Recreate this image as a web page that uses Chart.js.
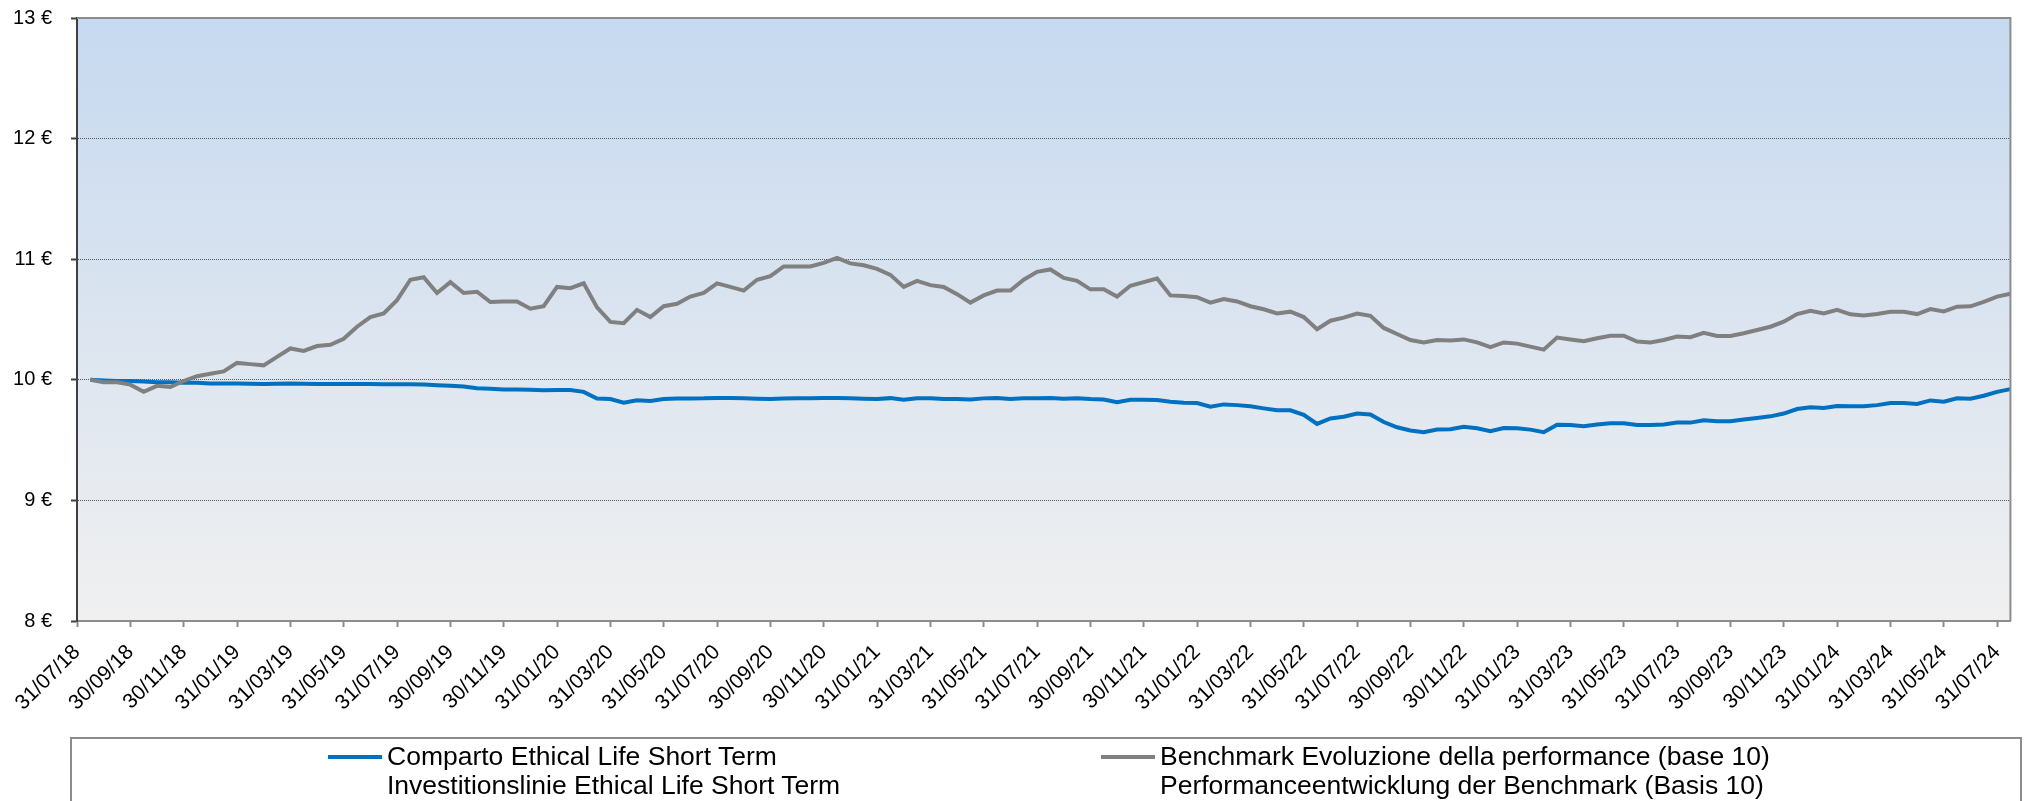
<!DOCTYPE html>
<html>
<head>
<meta charset="utf-8">
<script src="https://cdn.jsdelivr.net/npm/chart.js@4.4.1/dist/chart.umd.min.js"></script>
<style>
  html, body { margin: 0; padding: 0; background: #ffffff; overflow: hidden; }
  #wrap { position: relative; width: 2028px; height: 801px; }
  #c { position: absolute; left: 0; top: 0; }
  .lgbox { position: absolute; left: 70px; top: 737px; width: 1952px; height: 100px; border: 2px solid #8c8c8c; box-sizing: border-box; }
  .lgtext { position: absolute; font-family: "Liberation Sans", Arial, sans-serif; font-size: 26.5px; line-height: 29px; color: #000; white-space: nowrap; }
  .lgline { position: absolute; height: 4px; width: 54px; }
</style>
</head>
<body>
<div id="wrap">
  <canvas id="c" width="2028" height="801"></canvas>
  <div class="lgbox"></div>
  <div class="lgline" id="sw0" style="left:328px; top:755px;"></div>
  <div class="lgtext" id="lt0" style="left:387px; top:742px;"></div>
  <div class="lgline" id="sw1" style="left:1101px; top:755px;"></div>
  <div class="lgtext" id="lt1" style="left:1160px; top:742px;"></div>
</div>
<script>
// ---- data ----
const tickLabels = ['31/07/18','30/09/18','30/11/18','31/01/19','31/03/19','31/05/19','31/07/19','30/09/19','30/11/19','31/01/20','31/03/20','31/05/20','31/07/20','30/09/20','30/11/20','31/01/21','31/03/21','31/05/21','31/07/21','30/09/21','30/11/21','31/01/22','31/03/22','31/05/22','31/07/22','30/09/22','30/11/22','31/01/23','31/03/23','31/05/23','31/07/23','30/09/23','30/11/23','31/01/24','31/03/24','31/05/24','31/07/24'];

const fundValues = [
  10.00, 9.995, 9.99, 9.99, 9.985, 9.98, 9.98, 9.975, 9.975, 9.97,
  9.97, 9.97, 9.968, 9.966, 9.968, 9.97, 9.968, 9.966, 9.965, 9.965,
  9.965, 9.965, 9.964, 9.964, 9.963, 9.962, 9.955, 9.95, 9.945, 9.93,
  9.925, 9.92, 9.92, 9.918, 9.913, 9.915, 9.915, 9.90, 9.845, 9.84,
  9.81, 9.83, 9.825, 9.84, 9.845, 9.845, 9.846, 9.85, 9.85, 9.848,
  9.843, 9.84, 9.845, 9.846, 9.848, 9.85, 9.85, 9.848, 9.843, 9.84,
  9.848, 9.835, 9.846, 9.846, 9.84, 9.84, 9.837, 9.846, 9.85, 9.84,
  9.846, 9.848, 9.85, 9.843, 9.846, 9.84, 9.837, 9.815, 9.835, 9.835,
  9.832, 9.818, 9.81, 9.807, 9.777, 9.796, 9.79, 9.78, 9.763, 9.747,
  9.747, 9.71, 9.634, 9.68, 9.694, 9.72, 9.713, 9.65, 9.606, 9.58,
  9.565, 9.587, 9.59, 9.61, 9.598, 9.573, 9.60, 9.598, 9.587, 9.565,
  9.628, 9.625, 9.614, 9.63, 9.64, 9.64, 9.626, 9.625, 9.63, 9.645,
  9.645, 9.664, 9.656, 9.656, 9.67, 9.683, 9.697, 9.72, 9.758, 9.772,
  9.766, 9.782, 9.78, 9.78, 9.79, 9.807, 9.807, 9.80, 9.829, 9.818,
  9.846, 9.843, 9.868, 9.90, 9.923
];

const benchmarkValues = [
  10.00, 9.98, 9.98, 9.96, 9.90, 9.95, 9.94, 9.99, 10.03, 10.05,
  10.07, 10.14, 10.13, 10.12, 10.19, 10.26, 10.24, 10.28, 10.29, 10.34,
  10.44, 10.52, 10.55, 10.66, 10.83, 10.85, 10.72, 10.81, 10.72, 10.73,
  10.645, 10.65, 10.65, 10.59, 10.61, 10.77, 10.76, 10.80, 10.60, 10.48,
  10.47, 10.58, 10.52, 10.61, 10.63, 10.69, 10.72, 10.80, 10.77, 10.74,
  10.83, 10.86, 10.94, 10.94, 10.94, 10.97, 11.01, 10.965, 10.95, 10.92,
  10.87, 10.77, 10.82, 10.785, 10.77, 10.71, 10.64, 10.70, 10.74, 10.74,
  10.83, 10.895, 10.915, 10.845, 10.82, 10.75, 10.75, 10.69, 10.78, 10.81,
  10.84, 10.70, 10.695, 10.685, 10.64, 10.67, 10.65, 10.61, 10.585, 10.55,
  10.565, 10.52, 10.42, 10.49, 10.515, 10.55, 10.53, 10.43, 10.38, 10.33,
  10.31, 10.33, 10.325, 10.335, 10.31, 10.27, 10.31, 10.30, 10.275, 10.25,
  10.35, 10.335, 10.32, 10.345, 10.365, 10.365, 10.317, 10.31, 10.33, 10.358,
  10.353, 10.39, 10.364, 10.364, 10.386, 10.413, 10.44, 10.482, 10.545, 10.573,
  10.55, 10.58, 10.543, 10.534, 10.545, 10.565, 10.565, 10.545, 10.587, 10.567,
  10.606, 10.609, 10.647, 10.69, 10.713
];

const fundLabel = ['Comparto Ethical Life Short Term', 'Investitionslinie Ethical Life Short Term'];
const benchmarkLabel = ['Benchmark Evoluzione della performance (base 10)', 'Performanceentwicklung der Benchmark (Basis 10)'];

const yMin = 8, yMax = 13;
const pointsPerTick = 4;

// ---- styling ----
const fundColor = '#0070C0';
const benchColor = '#808080';
const fontFamily = '"Liberation Sans", Arial, sans-serif';

// legend (HTML, real text)
document.getElementById('sw0').style.background = fundColor;
document.getElementById('sw1').style.background = benchColor;
document.getElementById('lt0').innerHTML = fundLabel.join('<br>');
document.getElementById('lt1').innerHTML = benchmarkLabel.join('<br>');

const bgPlugin = {
  id: 'bg',
  beforeDraw(chart) {
    const { ctx, chartArea: a } = chart;
    const g = ctx.createLinearGradient(0, a.top, 0, a.bottom);
    g.addColorStop(0, '#c6d9f0');
    g.addColorStop(1, '#f0f0f0');
    ctx.save();
    ctx.fillStyle = g;
    ctx.fillRect(a.left, a.top, a.right - a.left, a.bottom - a.top);
    ctx.restore();
  }
};

const framePlugin = {
  id: 'frame',
  afterDraw(chart) {
    const { ctx, chartArea: a } = chart;
    ctx.save();
    ctx.strokeStyle = '#8c8c8c';
    ctx.lineWidth = 2;
    ctx.beginPath();
    ctx.moveTo(a.left, a.top);
    ctx.lineTo(a.right, a.top);
    ctx.lineTo(a.right, a.bottom);
    ctx.stroke();
    ctx.restore();
  }
};

const toPoints = arr => arr.map((v, i) => ({ x: i + 1, y: v }));

new Chart(document.getElementById('c'), {
  type: 'line',
  data: {
    datasets: [
      {
        label: benchmarkLabel.join(' '),
        data: toPoints(benchmarkValues),
        borderColor: benchColor,
        borderWidth: 4,
        pointRadius: 0,
        tension: 0,
        fill: false,
        order: 0
      },
      {
        label: fundLabel.join(' '),
        data: toPoints(fundValues),
        borderColor: fundColor,
        borderWidth: 4,
        pointRadius: 0,
        tension: 0,
        fill: false,
        order: 1
      }
    ]
  },
  options: {
    responsive: false,
    animation: false,
    devicePixelRatio: 1,
    layout: { padding: { top: 18, right: 13, left: 0, bottom: 0 } },
    plugins: {
      legend: { display: false },
      tooltip: { enabled: false }
    },
    scales: {
      x: {
        type: 'linear',
        min: 0,
        max: fundValues.length,
        afterBuildTicks(scale) {
          scale.ticks = tickLabels.map((_, k) => ({ value: k * pointsPerTick }));
        },
        afterFit(scale) { scale.height = 180; },
        ticks: {
          autoSkip: false,
          maxRotation: 45,
          minRotation: 45,
          padding: 13,
          color: '#000',
          font: { family: fontFamily, size: 21 },
          callback: v => tickLabels[Math.round(v / pointsPerTick)]
        },
        grid: {
          drawOnChartArea: false,
          drawTicks: true,
          tickLength: 6,
          tickColor: '#8c8c8c',
          tickWidth: 2
        },
        border: { display: true, color: '#8c8c8c', width: 2 }
      },
      y: {
        min: yMin,
        max: yMax,
        afterFit(scale) {
          scale.width = 77;
          scale.paddingTop = 0;
          scale.paddingBottom = 0;
        },
        ticks: {
          stepSize: 1,
          padding: 19,
          color: '#000',
          font: { family: fontFamily, size: 20 },
          callback: v => v + ' €'
        },
        grid: {
          color: ctx => (ctx.tick && (ctx.tick.value === yMin || ctx.tick.value === yMax)) ? 'rgba(0,0,0,0)' : '#555555',
          lineWidth: 1,
          drawTicks: true,
          tickLength: 6,
          tickColor: '#404040',
          tickWidth: 2
        },
        border: { display: true, color: '#404040', width: 2, dash: [1, 1] }
      }
    }
  },
  plugins: [bgPlugin, framePlugin]
});
</script>
</body>
</html>
